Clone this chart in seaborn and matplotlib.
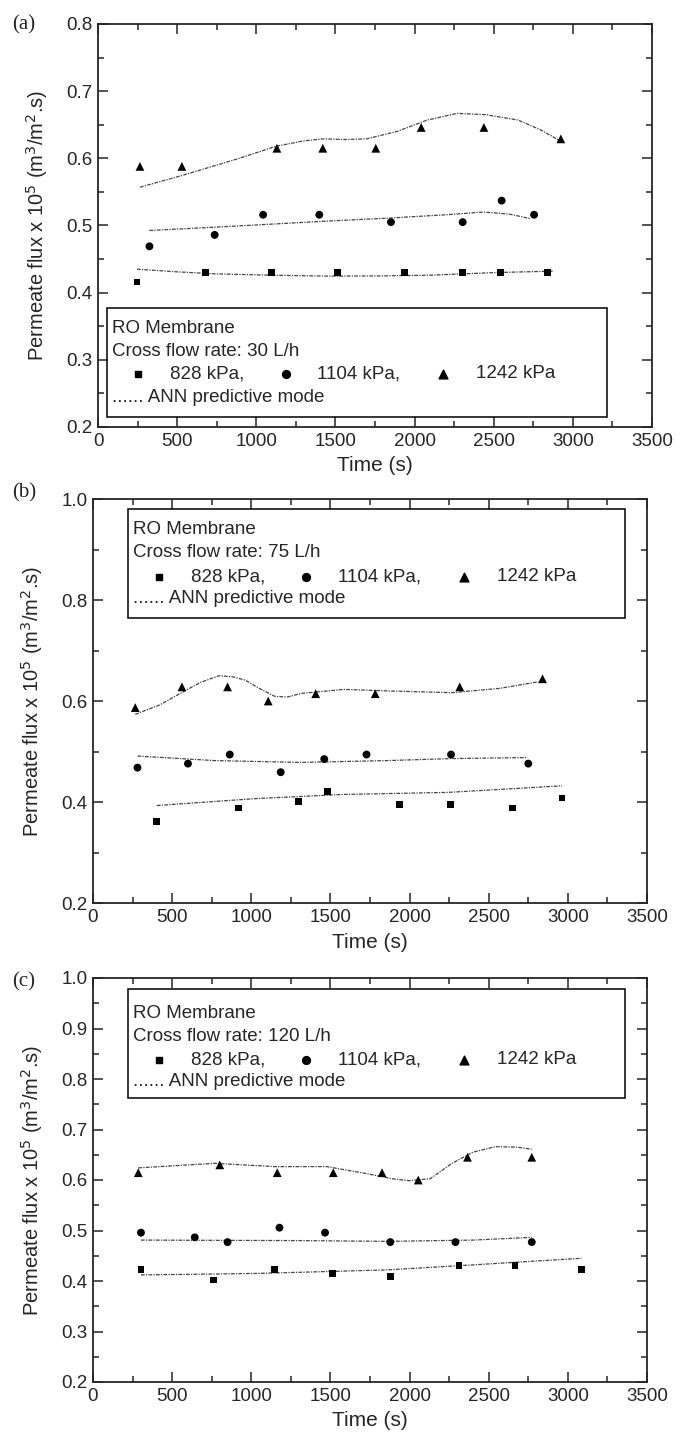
import numpy as np
import pandas as pd
import matplotlib
matplotlib.use("Agg")
import matplotlib.pyplot as plt
from matplotlib.patches import Rectangle
from matplotlib.ticker import MultipleLocator
import seaborn as sns

sns.set_style("ticks")
plt.rcParams['font.family'] = ['Liberation Sans', 'DejaVu Sans']

# ---------------- Panel (a): 30 L/h ----------------
a_t_828 = [246, 677, 1095, 1515, 1938, 2304, 2542, 2842]
a_f_828 = [0.416, 0.430, 0.430, 0.430, 0.430, 0.430, 0.430, 0.430]
a_t_1104 = [325, 737, 1043, 1398, 1851, 2304, 2550, 2755]
a_f_1104 = [0.469, 0.486, 0.516, 0.516, 0.505, 0.505, 0.537, 0.516]
a_t_1242 = [265, 530, 1130, 1420, 1755, 2042, 2438, 2924]
a_f_1242 = [0.588, 0.588, 0.615, 0.615, 0.615, 0.646, 0.646, 0.629]
a_ann_t_828 = [246, 500, 743, 1100, 1452, 1800, 2107, 2517, 2872]
a_ann_f_828 = [0.435, 0.431, 0.428, 0.426, 0.4246, 0.425, 0.4261, 0.430, 0.432]
a_ann_t_1104 = [325, 700, 1016, 1400, 1835, 2200, 2435, 2599, 2736]
a_ann_f_1104 = [0.4926, 0.497, 0.501, 0.506, 0.511, 0.516, 0.520, 0.517, 0.510]
a_ann_t_1242 = [265, 524, 879, 1125, 1300, 1425, 1560, 1698, 1889, 2080, 2270, 2450, 2654, 2800, 2927]
a_ann_f_1242 = [0.557, 0.574, 0.599, 0.618, 0.626, 0.629, 0.628, 0.629, 0.640, 0.657, 0.667, 0.665, 0.657, 0.642, 0.625]

# ---------------- Panel (b): 75 L/h ----------------
b_t_828 = [403, 921, 1300, 1483, 1935, 2260, 2650, 2963]
b_f_828 = [0.361, 0.388, 0.401, 0.421, 0.395, 0.395, 0.388, 0.408]
b_t_1104 = [281, 600, 864, 1186, 1461, 1728, 2262, 2750]
b_f_1104 = [0.468, 0.476, 0.494, 0.459, 0.485, 0.494, 0.494, 0.476]
b_t_1242 = [267, 562, 850, 1107, 1407, 1783, 2317, 2840]
b_f_1242 = [0.587, 0.628, 0.628, 0.600, 0.6145, 0.6145, 0.628, 0.644]
b_ann_t_828 = [403, 1041, 1586, 2241, 2963]
b_ann_f_828 = [0.393, 0.407, 0.415, 0.419, 0.432]
b_ann_t_1104 = [281, 769, 1314, 1859, 2268, 2745]
b_ann_f_1104 = [0.491, 0.482, 0.4784, 0.482, 0.486, 0.488]
b_ann_t_1242 = [267, 420, 551, 680, 796, 880, 960, 1050, 1150, 1230, 1314, 1586, 1859, 2268, 2568, 2813]
b_ann_f_1242 = [0.5736, 0.592, 0.615, 0.637, 0.650, 0.648, 0.6416, 0.625, 0.609, 0.608, 0.615, 0.623, 0.620, 0.6165, 0.625, 0.638]

# ---------------- Panel (c): 120 L/h ----------------
c_t_828 = [303, 763, 1145, 1513, 1878, 2312, 2666, 3086]
c_f_828 = [0.423, 0.402, 0.423, 0.415, 0.409, 0.430, 0.430, 0.423]
c_t_1104 = [303, 643, 850, 1178, 1466, 1878, 2290, 2772]
c_f_1104 = [0.4957, 0.4865, 0.477, 0.5056, 0.4957, 0.477, 0.477, 0.477]
c_t_1242 = [286, 801, 1164, 1518, 1826, 2055, 2366, 2772]
c_f_1242 = [0.6145, 0.630, 0.6145, 0.6145, 0.6145, 0.600, 0.645, 0.645]
c_ann_t_828 = [303, 1041, 1859, 2404, 3086]
c_ann_f_828 = [0.412, 0.415, 0.422, 0.432, 0.445]
c_ann_t_1104 = [303, 1314, 1859, 2404, 2772]
c_ann_f_1104 = [0.481, 0.480, 0.4785, 0.481, 0.4865]
c_ann_t_1242 = [286, 769, 1150, 1477, 1723, 1900, 1996, 2131, 2268, 2400, 2541, 2680, 2772]
c_ann_f_1242 = [0.624, 0.633, 0.6265, 0.6265, 0.613, 0.602, 0.5987, 0.6026, 0.633, 0.655, 0.666, 0.665, 0.661]

panel_labels = ["(a)", "(b)", "(c)"]
flow_rates = ["30 L/h", "75 L/h", "120 L/h"]
pressure_labels = ["828 kPa,", "1104 kPa,", "1242 kPa"]
x_label = "Time (s)"
y_label = "Permeate flux x 10$^5$ (m$^3$/m$^2$.s)"

panels = [
    dict(pts=[(a_t_828, a_f_828), (a_t_1104, a_f_1104), (a_t_1242, a_f_1242)],
         ann=[(a_ann_t_828, a_ann_f_828), (a_ann_t_1104, a_ann_f_1104), (a_ann_t_1242, a_ann_f_1242)],
         ylim=(0.2, 0.8), major=0.1, minor=0.05, pos=[98/676, 1-427/1436, 554/676, 403/1436],
         box=(0.0156, 0.026, 0.919-0.0156, 0.296-0.026), rows=[0.244, 0.1876, 0.132, 0.0744]),
    dict(pts=[(b_t_828, b_f_828), (b_t_1104, b_f_1104), (b_t_1242, b_f_1242)],
         ann=[(b_ann_t_828, b_ann_f_828), (b_ann_t_1104, b_ann_f_1104), (b_ann_t_1242, b_ann_f_1242)],
         ylim=(0.2, 1.0), major=0.2, minor=0.1, pos=[93/676, 1-903/1436, 554/676, 404/1436],
         box=(0.0623, 0.705, 0.9611-0.0623, 0.975-0.705), rows=[0.924, 0.868, 0.808, 0.7545]),
    dict(pts=[(c_t_828, c_f_828), (c_t_1104, c_f_1104), (c_t_1242, c_f_1242)],
         ann=[(c_ann_t_828, c_ann_f_828), (c_ann_t_1104, c_ann_f_1104), (c_ann_t_1242, c_ann_f_1242)],
         ylim=(0.2, 1.0), major=0.1, minor=0.05, pos=[93/676, 1-1382/1436, 554/676, 404/1436],
         box=(0.0623, 0.7038, 0.961-0.0623, 0.9736-0.7038), rows=[0.912, 0.856, 0.798, 0.7426]),
]

markers = ['s', 'o', '^']
msizes = [24, 32, 40]
leg_fs = 13.5

fig = plt.figure(figsize=(6.76, 14.36), dpi=100)
for i, p in enumerate(panels):
    ax = fig.add_axes(p['pos'])
    for (t, f), m, s in zip(p['pts'], markers, msizes):
        sns.scatterplot(x=t, y=f, marker=m, s=s, color='black', edgecolor='none', ax=ax, zorder=3)
    for t, f in p['ann']:
        sns.lineplot(x=t, y=f, color='#444444', lw=0.9, linestyle=(0, (3, 1, 1, 1)), ax=ax,
                     estimator=None, sort=False, zorder=2)
    ax.set_xlim(0, 3500)
    ax.set_ylim(*p['ylim'])
    ax.xaxis.set_major_locator(MultipleLocator(500))
    ax.xaxis.set_minor_locator(MultipleLocator(250))
    ax.yaxis.set_major_locator(MultipleLocator(p['major']))
    ax.yaxis.set_minor_locator(MultipleLocator(p['minor']))
    ax.yaxis.set_major_formatter(matplotlib.ticker.FormatStrFormatter('%.1f'))
    ax.tick_params(which='both', direction='in', top=True, right=True, labelsize=13.5, width=1.1)
    ax.tick_params(which='major', length=7, pad=4)
    ax.tick_params(which='minor', length=4)
    for sp in ax.spines.values():
        sp.set_linewidth(1.3)
    ax.set_xlabel(x_label, fontsize=15, labelpad=5)
    ax.set_ylabel(y_label, fontsize=14.5, labelpad=12)

    # legend box
    bx, by, bw, bh = p['box']
    ax.add_patch(Rectangle((bx, by), bw, bh, transform=ax.transAxes, fill=False,
                           lw=1.1, ec='black', zorder=4))
    tx = bx + 0.009
    r = p['rows']
    ax.text(tx, r[0], "RO Membrane", transform=ax.transAxes, va='center', ha='left', fontsize=leg_fs)
    ax.text(tx, r[1], "Cross flow rate: " + flow_rates[i], transform=ax.transAxes,
            va='center', ha='left', fontsize=leg_fs)
    mx = [bx + 0.056, bx + 0.323, bx + 0.607]
    lx = [bx + 0.114, bx + 0.380, bx + 0.667]
    for m, s, xm, xl, lab in zip(markers, msizes, mx, lx, pressure_labels):
        ax.scatter([xm], [r[2]], marker=m, s=s, color='black', transform=ax.transAxes, zorder=5)
        ax.text(xl, r[2], lab, transform=ax.transAxes, va='center', ha='left', fontsize=leg_fs)
    ax.text(tx, r[3], "...... ANN predictive mode", transform=ax.transAxes,
            va='center', ha='left', fontsize=leg_fs)

    # panel label
    fig.text(12/676, 1 - [25, 493, 982][i]/1436, panel_labels[i], family=['Liberation Serif'],
             fontsize=15, va='center', ha='left')

fig.savefig("out.png", dpi=100)
